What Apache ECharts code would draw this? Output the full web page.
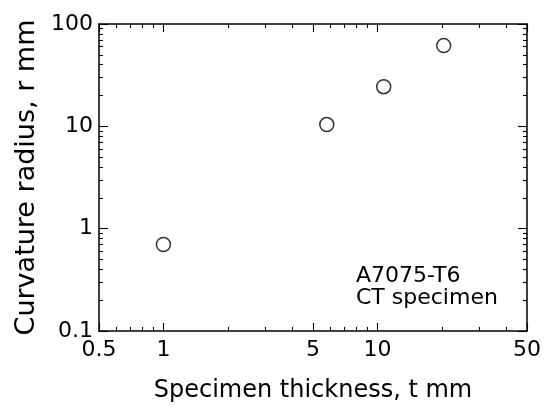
<!DOCTYPE html>
<html>
<head>
<meta charset="utf-8">
<script src="https://cdn.jsdelivr.net/npm/echarts@6/dist/echarts.min.js"></script>
<style>
html,body{margin:0;padding:0;background:#fff;}
#chart{width:544px;height:408px;}
</style>
</head>
<body>
<div id="chart"></div>
<script>
// ---- data ----
const thickness = [1, 5.8, 10.7, 20.4];       // t mm
const radius = [0.70, 10.4, 24.4, 61.5];      // r mm
const xMajorTicks = [0.5, 1, 5, 10, 50];
const xMinorTicks = [0.6, 0.7, 0.8, 0.9, 2, 3, 4, 6, 7, 8, 9, 20, 30, 40];
const yMajorTicks = [0.1, 1, 10, 100];
const yMinorTicks = [0.2, 0.3, 0.4, 0.5, 0.6, 0.7, 0.8, 0.9, 2, 3, 4, 5, 6, 7, 8, 9, 20, 30, 40, 50, 60, 70, 80, 90];
const xTitle = 'Specimen thickness, t mm';
const yTitle = 'Curvature radius, r mm';
const noteLines = ['A7075-T6', 'CT specimen'];

const FONT = 'DejaVu Sans';
const lineStyle = {color: '#000', width: 1.5};
const tickLine = {color: '#000', width: 1.1};

function mkAxis(opts) {
  return Object.assign({
    type: 'log', logBase: 10,
    splitLine: {show: false},
    minorTick: {show: false},
    minorSplitLine: {show: false},
    axisLine: {show: false, lineStyle: lineStyle},
    axisLabel: {show: false},
    axisTick: {show: true, inside: true, lineStyle: tickLine}
  }, opts);
}

const xBase = {min: 0.5, max: 50};
const yBase = {min: 0.1, max: 100};

const xAxes = [
  mkAxis(Object.assign({}, xBase, {
    position: 'bottom',
    axisLine: {show: true, onZero: false, lineStyle: lineStyle},
    axisTick: {show: true, inside: true, length: 8, customValues: xMajorTicks, lineStyle: tickLine},
    axisLabel: {show: true, customValues: xMajorTicks, color: '#000', fontFamily: FONT, fontSize: 22, margin: 8},
    name: xTitle, nameLocation: 'middle', nameGap: 48,
    nameTextStyle: {color: '#000', fontFamily: FONT, fontSize: 24}
  })),
  mkAxis(Object.assign({}, xBase, {
    position: 'bottom',
    axisTick: {show: true, inside: true, length: 4, customValues: xMinorTicks, lineStyle: tickLine}
  })),
  mkAxis(Object.assign({}, xBase, {
    position: 'top',
    axisLine: {show: true, onZero: false, lineStyle: lineStyle},
    axisTick: {show: true, inside: true, length: 8, customValues: xMajorTicks, lineStyle: tickLine}
  })),
  mkAxis(Object.assign({}, xBase, {
    position: 'top',
    axisTick: {show: true, inside: true, length: 4, customValues: xMinorTicks, lineStyle: tickLine}
  }))
];

const yAxes = [
  mkAxis(Object.assign({}, yBase, {
    position: 'left',
    axisLine: {show: true, onZero: false, lineStyle: lineStyle},
    axisTick: {show: true, inside: true, length: 9, customValues: yMajorTicks, lineStyle: tickLine},
    axisLabel: {show: true, customValues: yMajorTicks, color: '#000', fontFamily: FONT, fontSize: 22, margin: 6},
    name: yTitle, nameLocation: 'middle', nameGap: 57, nameRotate: 90,
    nameTextStyle: {color: '#000', fontFamily: FONT, fontSize: 27}
  })),
  mkAxis(Object.assign({}, yBase, {
    position: 'left',
    axisTick: {show: true, inside: true, length: 4, customValues: yMinorTicks, lineStyle: tickLine}
  })),
  mkAxis(Object.assign({}, yBase, {
    position: 'right',
    axisLine: {show: true, onZero: false, lineStyle: lineStyle},
    axisTick: {show: true, inside: true, length: 9, customValues: yMajorTicks, lineStyle: tickLine}
  })),
  mkAxis(Object.assign({}, yBase, {
    position: 'right',
    axisTick: {show: true, inside: true, length: 4, customValues: yMinorTicks, lineStyle: tickLine}
  }))
];

const chart = echarts.init(document.getElementById('chart'), null, {renderer: 'canvas'});
chart.setOption({
  animation: false,
  backgroundColor: '#fff',
  grid: {left: 99, right: 14.5, top: 24, bottom: 75.5, containLabel: false},
  xAxis: xAxes,
  yAxis: yAxes,
  graphic: [{
    type: 'text', left: 356, top: 265,
    style: {text: noteLines.join('\n'), fill: '#000', font: '22px "DejaVu Sans"', lineHeight: 22}
  }],
  series: [{
    type: 'scatter', xAxisIndex: 0, yAxisIndex: 0,
    data: thickness.map((t, i) => [t, radius[i]]),
    symbol: 'circle', symbolSize: 14,
    itemStyle: {color: '#fff', borderColor: '#000', borderWidth: 1.5}
  }]
});
</script>
</body>
</html>
